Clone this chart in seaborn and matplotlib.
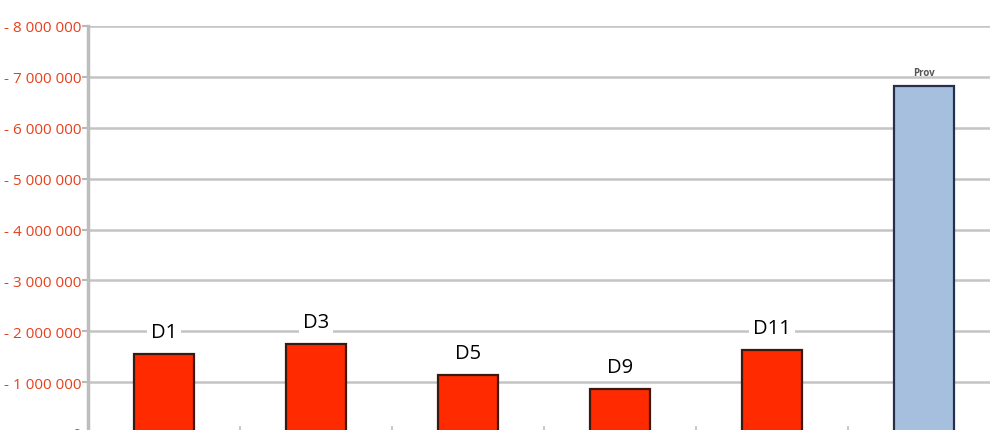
import matplotlib
matplotlib.use("Agg")
import matplotlib.pyplot as plt
import seaborn as sns
import pandas as pd
from matplotlib.ticker import FuncFormatter, MultipleLocator

categories = ["D1", "D3", "D5", "D9", "D11", "Prov"]
values = [1550000, 1750000, 1140000, 860000, 1630000, 6820000]
labels = ["D1", "D3", "D5", "D9", "D11", "Prov"]
bar_colors = ["#ff2a00", "#ff2a00", "#ff2a00", "#ff2a00", "#ff2a00", "#a7bfdf"]
edge_colors = ["#3a1a10", "#3a1a10", "#3a1a10", "#3a1a10", "#3a1a10", "#26304a"]

df = pd.DataFrame({"cat": categories, "val": values})

sns.set_theme(style="white")
plt.rcParams["font.family"] = ["Open Sans", "DejaVu Sans"]

fig = plt.figure(figsize=(9.9, 4.31), dpi=100)
ax = fig.add_axes([88 / 990, (431 - 434) / 431, (1000 - 88) / 990, (434 - 27) / 431])

sns.barplot(data=df, x="cat", y="val", hue="cat", palette=bar_colors,
            legend=False, width=0.4, ax=ax, saturation=1)
for patch, ec in zip(ax.patches, edge_colors):
    patch.set_edgecolor(ec)
    patch.set_linewidth(1.6)
    patch.set_zorder(3)

ax.set_xlim(-0.5, len(categories) - 0.5)
ax.set_ylim(0, 8000000)
ax.yaxis.set_major_locator(MultipleLocator(1000000))


def fmt(v, _):
    if v == 0:
        return "0"
    return "- " + f"{int(v):,}".replace(",", " ")


ax.yaxis.set_major_formatter(FuncFormatter(fmt))
ax.grid(axis="y", color="#c4c4c4", linewidth=1.8, zorder=0)
ax.set_axisbelow(True)
for s in ["top", "right", "bottom"]:
    ax.spines[s].set_visible(False)
ax.spines["left"].set_color("#bdbdbd")
ax.spines["left"].set_linewidth(2.5)

ax.tick_params(axis="y", colors="#e8401c", labelsize=11, length=4, width=1.5,
               pad=1, left=True)
for t in ax.get_yticklabels():
    t.set_color("#e8401c")
ax.tick_params(axis="y", color="#b8b8b8")
ax.set_xticks([])
ax.set_xlabel("")
ax.set_ylabel("")

# boundary ticks between categories
for b in range(1, len(categories)):
    ax.plot([b - 0.5, b - 0.5], [60000, 120000], color="#c8c8c8", lw=1.5,
            zorder=2, clip_on=False)

for i, (lab, v) in enumerate(zip(labels, values)):
    if lab == "Prov":
        ax.annotate(lab, (i, v), xytext=(0, 6), textcoords="offset points",
                    ha="center", va="bottom", fontsize=7, color="#555555",
                    fontweight="bold", zorder=5)
    else:
        ax.annotate(lab, (i, v), xytext=(0, 16), textcoords="offset points",
                    ha="center", va="center", fontsize=14.5, color="black",
                    zorder=5,
                    bbox=dict(boxstyle="square,pad=0.2", fc="white", ec="none"))

fig.savefig("out.png", dpi=100)
